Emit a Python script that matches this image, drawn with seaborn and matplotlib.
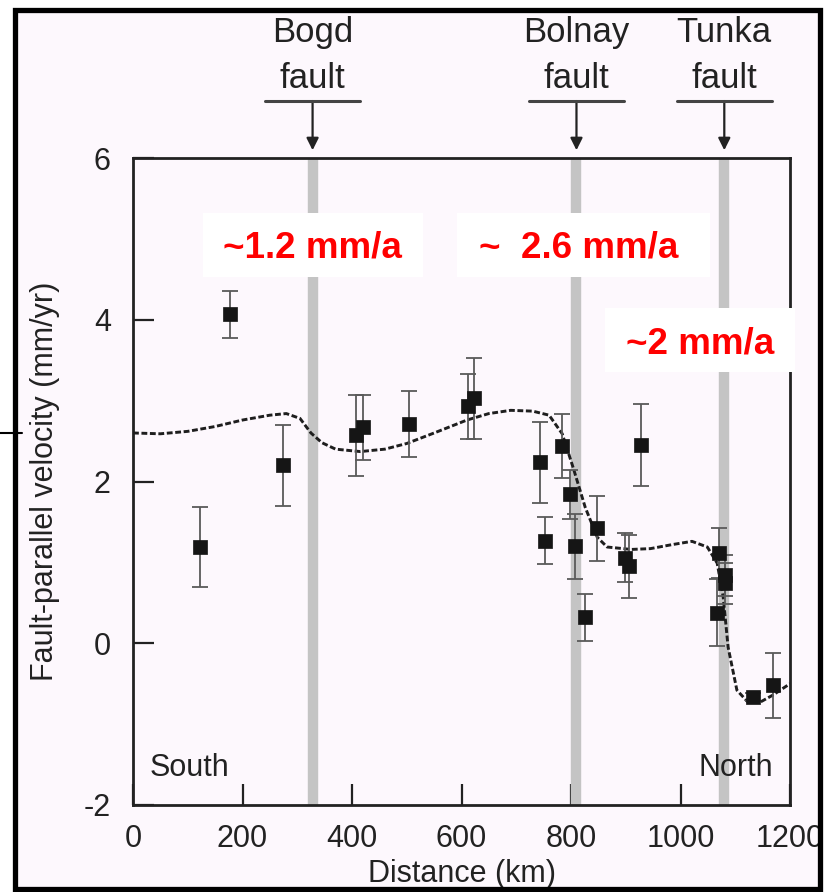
import matplotlib
matplotlib.use("Agg")
import matplotlib.pyplot as plt
from matplotlib.patches import Rectangle
from matplotlib.lines import Line2D
import seaborn as sns
import pandas as pd

# ---- data ----
dist_km = [122, 177, 274, 407, 421, 505, 611, 622, 744, 753, 784, 799, 808, 826,
           848, 899, 906, 928, 1071, 1082, 1082, 1067, 1133, 1169]
velocity = [1.19, 4.07, 2.20, 2.57, 2.67, 2.71, 2.93, 3.03, 2.24, 1.27, 2.44, 1.84,
            1.20, 0.32, 1.42, 1.06, 0.95, 2.45, 1.12, 0.84, 0.74, 0.38, -0.67, -0.52]
vel_err = [0.50, 0.29, 0.50, 0.50, 0.40, 0.41, 0.40, 0.50, 0.50, 0.29, 0.40, 0.30,
           0.40, 0.29, 0.40, 0.30, 0.39, 0.51, 0.31, 0.25, 0.25, 0.41, 0.05, 0.40]

model_km = [0, 50, 100, 150, 200, 250, 280, 305, 325, 345, 370, 415, 460, 500, 550,
            610, 650, 690, 730, 760, 784, 804, 826, 848, 866, 910, 945, 985, 1021,
            1049, 1067, 1078, 1087, 1103, 1122, 1145, 1169, 1200]
model_vel = [2.60, 2.59, 2.62, 2.68, 2.76, 2.82, 2.84, 2.78, 2.60, 2.48, 2.40, 2.37,
             2.40, 2.47, 2.60, 2.76, 2.84, 2.88, 2.87, 2.82, 2.59, 2.17, 1.68, 1.31,
             1.19, 1.16, 1.17, 1.22, 1.26, 1.19, 0.99, 0.57, -0.05, -0.58, -0.72,
             -0.73, -0.64, -0.50]

fault_names = ["Bogd", "Bolnay", "Tunka"]
fault_km = [328, 810, 1080]

rate_labels = ["~1.2 mm/a", "~  2.6 mm/a", "~2 mm/a"]

x_ticks = [0, 200, 400, 600, 800, 1000, 1200]
y_ticks = [-2, 0, 2, 4, 6]

pts = pd.DataFrame({"dist": dist_km, "vel": velocity, "err": vel_err})
model = pd.DataFrame({"dist": model_km, "vel": model_vel})

# ---- style ----
sns.set_theme(style="ticks")
plt.rcParams["font.family"] = ["Liberation Sans", "DejaVu Sans"]

W, H = 824, 892
fig = plt.figure(figsize=(W / 100, H / 100), dpi=100, facecolor="white")
bg = "#fdf8fd"

def fx(px):
    return px / W

def fy(py):
    return 1 - py / H

# inner background of the framed picture
fig.patches.append(Rectangle((fx(16), fy(888)), fx(820) - fx(16), fy(10) - fy(888),
                             transform=fig.transFigure, facecolor=bg, edgecolor="none",
                             zorder=-5))

ax = fig.add_axes([fx(133), fy(805), fx(790) - fx(133), fy(158) - fy(805)])
ax.set_facecolor(bg)

# fault bands
for fk in fault_km:
    ax.axvline(fk, color="#c4c4c4", lw=7.5, zorder=1)

# model curve
sns.lineplot(data=model, x="dist", y="vel", ax=ax, color="#1e1e1e", lw=2.1,
             linestyle=(0, (2.0, 0.9)), zorder=3, legend=False)

# error bars + points
ax.errorbar(pts["dist"], pts["vel"], yerr=pts["err"], fmt="none", ecolor="#5a5a5a",
            elinewidth=1.3, capsize=6, capthick=1.3, zorder=4)
sns.scatterplot(data=pts, x="dist", y="vel", ax=ax, marker="s", s=95, color="#151515",
                edgecolor="#151515", linewidth=0.5, zorder=5, legend=False)

ax.set_xlim(0, 1200)
ax.set_ylim(-2, 6)
ax.set_xticks(x_ticks)
ax.set_yticks(y_ticks)
ax.set_xticklabels([str(v) for v in x_ticks])
ax.set_yticklabels([str(v) for v in y_ticks])
ax.tick_params(axis="both", direction="in", length=15, width=1.6, labelsize=22,
               colors="#222222")
ax.tick_params(axis="x", pad=14)
ax.tick_params(axis="y", pad=16)
for s in ax.spines.values():
    s.set_linewidth(2.0)
    s.set_color("#222222")
    s.set_visible(True)

ax.set_xlabel("Distance (km)", fontsize=22, color="#222222", labelpad=3)
ax.set_ylabel("Fault-parallel velocity (mm/yr)", fontsize=22, color="#222222",
              labelpad=17)

ax.text(0.025, 0.045, "South", transform=ax.transAxes, fontsize=22, color="#222222",
        ha="left", va="baseline")
ax.text(0.975, 0.045, "North", transform=ax.transAxes, fontsize=22, color="#222222",
        ha="right", va="baseline")

# fault annotations above the axes
for name, fk in zip(fault_names, fault_km):
    ax.annotate("", xy=(fk, 1.012), xycoords=("data", "axes fraction"),
                xytext=(fk, 1.088), textcoords=("data", "axes fraction"),
                arrowprops=dict(arrowstyle="-|>", color="#222222", lw=1.6,
                                mutation_scale=18, shrinkA=0, shrinkB=0),
                annotation_clip=False)
    ax.annotate(name, xy=(fk, 1.0), xycoords=("data", "axes fraction"),
                xytext=(0, 158 - 42), textcoords="offset pixels",
                ha="center", va="baseline", fontsize=25, color="#222222",
                annotation_clip=False)
    ax.annotate("fault", xy=(fk, 1.0), xycoords=("data", "axes fraction"),
                xytext=(0, 158 - 88), textcoords="offset pixels",
                ha="center", va="baseline", fontsize=25, color="#222222",
                annotation_clip=False)
    ax.plot([fk - 87, fk + 87], [1.0 + 57 / 647, 1.0 + 57 / 647], color="#444444",
            lw=2.2, transform=ax.get_xaxis_transform(), clip_on=False, zorder=6)

# red rate labels on white boxes (pixel placement of the overlay)
boxes = [(203, 213, 423, 277, 312, 258), (457, 213, 710, 277, 579, 258),
         (605, 308, 795, 372, 700, 353)]
for lab, (x0, y0, x1, y1, tx, tb) in zip(rate_labels, boxes):
    fig.patches.append(Rectangle((fx(x0), fy(y1)), fx(x1) - fx(x0), fy(y0) - fy(y1),
                                 transform=fig.transFigure, facecolor="white",
                                 edgecolor="none", zorder=8))
    fig.text(fx(tx), fy(tb), lab, color="#ff0000", fontsize=26.5, fontweight="bold",
             ha="center", va="baseline", zorder=9)

# outer frame of the picture and pointer mark
fig.patches.append(Rectangle((fx(15.5), fy(889)), fx(820) - fx(15.5), fy(10) - fy(889),
                             transform=fig.transFigure, facecolor="none",
                             edgecolor="black", lw=3.8, zorder=10))
fig.lines.append(Line2D([0, fx(22)], [fy(433), fy(433)], transform=fig.transFigure,
                        color="black", lw=1.5, zorder=11))

fig.savefig("out.png", dpi=100, facecolor="white")
